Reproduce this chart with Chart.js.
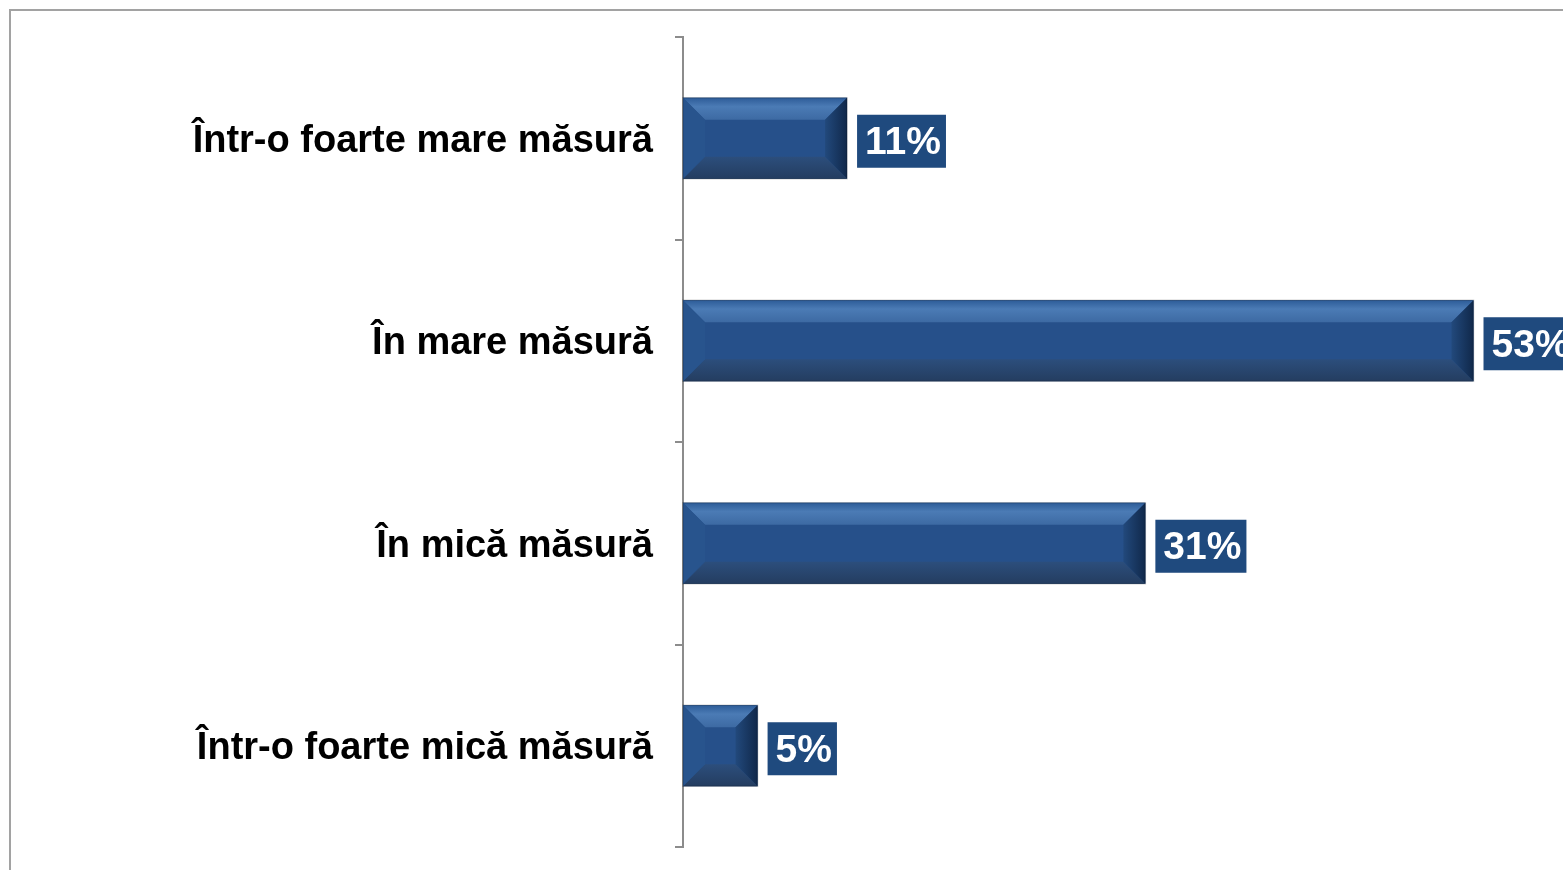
<!DOCTYPE html>
<html>
<head>
<meta charset="utf-8">
<script src="https://cdn.jsdelivr.net/npm/chart.js@4.4.0/dist/chart.umd.min.js"></script>
<style>
  html, body { margin: 0; padding: 0; background: #fff; overflow: hidden; }
  #frame { position: absolute; left: 9px; top: 9px; width: 1560px; height: 870px;
           border-top: 2px solid #a2a2a2; border-left: 2px solid #a2a2a2; }
  #wrap { position: absolute; left: 0; top: 0; width: 1563px; height: 870px; }
</style>
</head>
<body>
<div id="frame"></div>
<div id="wrap"><canvas id="barChart"></canvas></div>
<script>
const categories = ['Într-o foarte mare măsură', 'În mare măsură', 'În mică măsură', 'Într-o foarte mică măsură'];
const values = [11, 53, 31, 5];
const valueLabels = ['11%', '53%', '31%', '5%'];

// bevelled look on top of the plain bars
const bevelPlugin = {
    id: 'bevel',
    afterDatasetsDraw(chart) {
        const ctx = chart.ctx;
        chart.getDatasetMeta(0).data.forEach(bar => {
            const L = bar.base, R = bar.x;
            const T = bar.y - bar.height / 2, B = bar.y + bar.height / 2;
            const d = Math.min(22, (R - L) / 2, (B - T) / 2);
            ctx.save();
            // top
            let g = ctx.createLinearGradient(0, T, 0, T + d);
            g.addColorStop(0, '#2d5c98');
            g.addColorStop(0.4, '#4b7bb5');
            g.addColorStop(1, '#3d6aa3');
            ctx.fillStyle = g;
            ctx.beginPath();
            ctx.moveTo(L, T); ctx.lineTo(R, T); ctx.lineTo(R - d, T + d); ctx.lineTo(L + d, T + d); ctx.closePath();
            ctx.fill();
            // bottom
            g = ctx.createLinearGradient(0, B - d, 0, B);
            g.addColorStop(0, '#2c4e7c');
            g.addColorStop(1, '#243d60');
            ctx.fillStyle = g;
            ctx.beginPath();
            ctx.moveTo(L, B); ctx.lineTo(R, B); ctx.lineTo(R - d, B - d); ctx.lineTo(L + d, B - d); ctx.closePath();
            ctx.fill();
            // left
            ctx.fillStyle = '#28548d';
            ctx.beginPath();
            ctx.moveTo(L, T); ctx.lineTo(L + d, T + d); ctx.lineTo(L + d, B - d); ctx.lineTo(L, B); ctx.closePath();
            ctx.fill();
            // right
            g = ctx.createLinearGradient(R - d, 0, R, 0);
            g.addColorStop(0, '#22497c');
            g.addColorStop(1, '#10284a');
            ctx.fillStyle = g;
            ctx.beginPath();
            ctx.moveTo(R, T); ctx.lineTo(R - d, T + d); ctx.lineTo(R - d, B - d); ctx.lineTo(R, B); ctx.closePath();
            ctx.fill();
            // faint outline
            ctx.strokeStyle = 'rgba(0,0,0,0.18)';
            ctx.lineWidth = 1.5;
            ctx.strokeRect(L, T, R - L, B - T);
            ctx.restore();
        });
    }
};

// value boxes right of each bar
const valueBoxPlugin = {
    id: 'valueBoxes',
    afterDatasetsDraw(chart) {
        const ctx = chart.ctx;
        ctx.save();
        ctx.font = 'bold 39px "Liberation Sans", Arial, sans-serif';
        ctx.textBaseline = 'middle';
        chart.getDatasetMeta(0).data.forEach((bar, i) => {
            const txt = valueLabels[i];
            const w = ctx.measureText(txt).width + 13;
            const h = 53;
            const x = bar.x + 10;
            const y = bar.y + 3 - h / 2;
            ctx.fillStyle = '#1f4a7e';
            ctx.fillRect(x, y, w, h);
            ctx.fillStyle = '#ffffff';
            ctx.textAlign = 'left';
            ctx.fillText(txt, x + 8, bar.y + 5);
        });
        ctx.restore();
    }
};

const ctx1 = document.getElementById('barChart').getContext('2d');
const barChart = new Chart(ctx1, {
    type: 'bar',
    data: {
        labels: categories,
        datasets: [{
            data: values,
            backgroundColor: '#26508a',
            borderWidth: 0,
            barPercentage: 0.8,
            categoryPercentage: 0.5
        }]
    },
    options: {
        indexAxis: 'y',
        responsive: true,
        maintainAspectRatio: false,
        animation: false,
        layout: { padding: { top: 37, bottom: 23, left: 0, right: 0 } },
        plugins: {
            legend: { display: false },
            tooltip: { enabled: false }
        },
        scales: {
            x: {
                display: false,
                min: 0,
                max: 59
            },
            y: {
                afterFit(scale) {
                    scale.width = 683;
                    scale.paddingTop = 0;
                    scale.paddingBottom = 0;
                },
                grid: {
                    offset: true,
                    drawOnChartArea: false,
                    tickLength: 8,
                    color: '#8c8c8c',
                    lineWidth: 2
                },
                border: { color: '#8c8c8c', width: 2 },
                ticks: {
                    padding: 22,
                    labelOffset: 3,
                    color: '#000',
                    font: { family: '"Liberation Sans", Arial, sans-serif', size: 38, weight: 'bold' }
                }
            }
        }
    },
    plugins: [bevelPlugin, valueBoxPlugin]
});
</script>
</body>
</html>
